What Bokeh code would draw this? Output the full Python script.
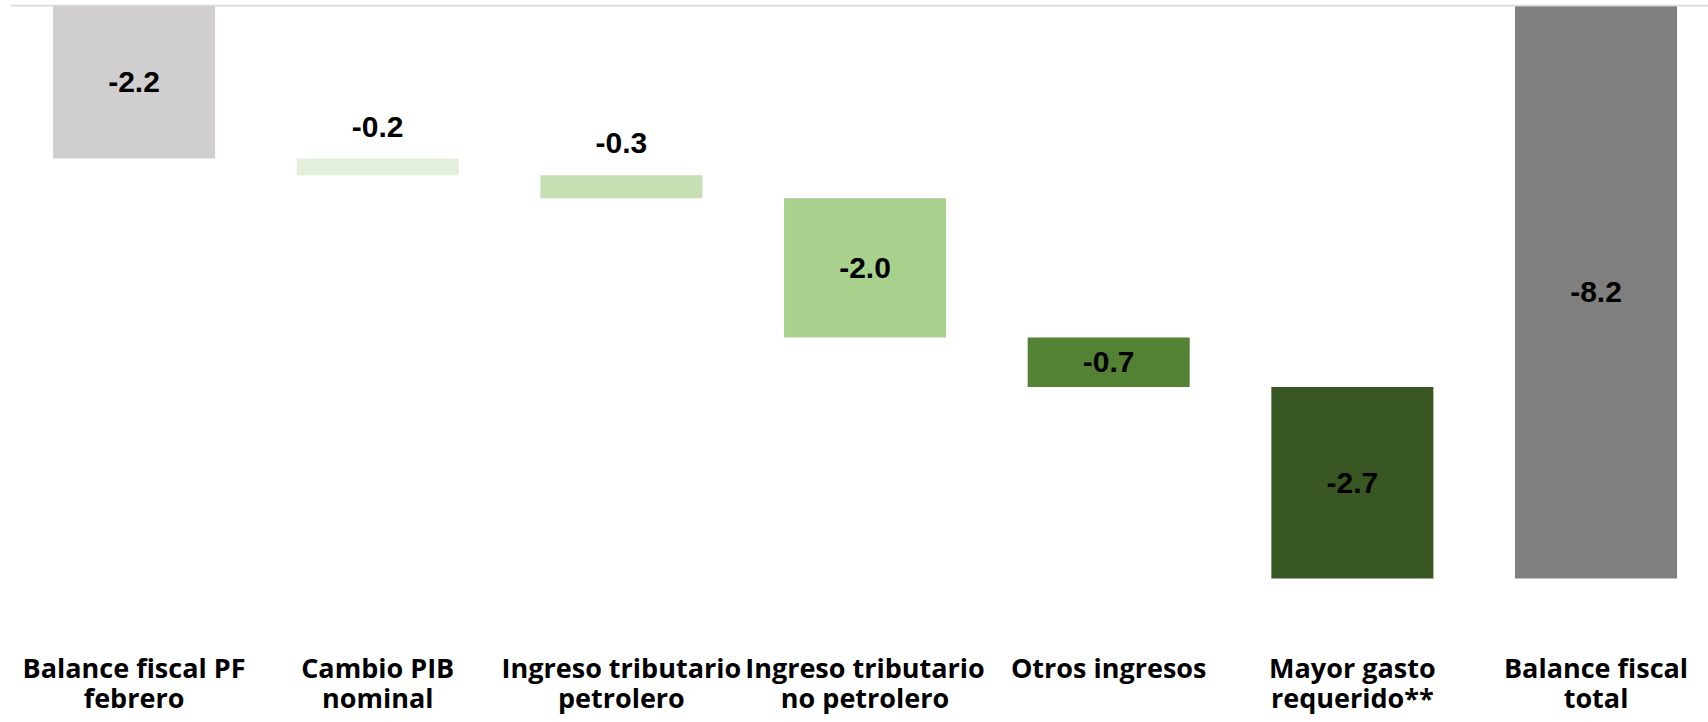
from bokeh.plotting import figure
from bokeh.models import Range1d, FixedTicker, Span, ColumnDataSource, LabelSet, LinearAxis
from bokeh.core.properties import value
from bokeh.embed import file_html
from bokeh.resources import INLINE

categories = [
    "Balance fiscal PF\nfebrero",
    "Cambio PIB\nnominal",
    "Ingreso tributario\npetrolero",
    "Ingreso tributario\nno petrolero",
    "Otros ingresos",
    "Mayor gasto\nrequerido**",
    "Balance fiscal\ntotal",
]
changes = [-2.19, -0.24, -0.33, -1.99, -0.71, -2.74]
total = -8.2
colors = ["#D0CECE", "#E2EFDA", "#C6E0B4", "#A9D18E", "#548235", "#385723", "#7F7F7F"]

# waterfall geometry
tops, bottoms, vals = [], [], []
run = 0.0
for c in changes:
    tops.append(run)
    bottoms.append(run + c)
    vals.append(c)
    run += c
tops.append(0.0)
bottoms.append(total)
vals.append(total)

xs = list(range(len(categories)))
labels = [f"{v:.1f}" for v in vals]
inside = [abs(v) >= 0.5 for v in vals]
label_y = [(t + b) / 2 if ins else t for t, b, ins in zip(tops, bottoms, inside)]
label_off = [0 if ins else 32 for ins in inside]

src = ColumnDataSource(dict(x=xs, top=tops, bottom=bottoms, color=colors,
                            label=labels, ly=label_y, off=label_off))

W, H = 1708, 722
p = figure(width=W, height=H, output_backend="svg", toolbar_location=None,
           x_range=Range1d(-0.507, 6.4616), y_range=Range1d(-8.214, 0.0143),
           min_border_left=10, min_border_right=0, min_border_top=4,
           min_border_bottom=143)

p.vbar(x="x", top="top", bottom="bottom", width=0.665, fill_color="color",
       line_color=None, source=src)

p.add_layout(Span(location=0, dimension="width", line_color="#D9D9D9", line_width=2))

lab = LabelSet(x="x", y="ly", text="label", y_offset="off", source=src,
               text_align="center", text_baseline="middle",
               text_font=value("Liberation Sans"), text_font_style="bold",
               text_font_size=value("30px"), text_color="#000000")
p.add_layout(lab)

p.yaxis.visible = False
p.grid.visible = False
p.outline_line_color = None

line1 = {i: c.split("\n")[0] for i, c in zip(xs, categories)}
line2 = {i: (c.split("\n")[1] if "\n" in c else "") for i, c in zip(xs, categories)}

ax1 = p.xaxis[0]
ax2 = LinearAxis()
p.add_layout(ax2, "below")
for ax, overrides, standoff in ((ax1, line1, 69), (ax2, line2, -10)):
    ax.ticker = FixedTicker(ticks=xs)
    ax.major_label_overrides = overrides
    ax.axis_line_color = None
    ax.major_tick_line_color = None
    ax.minor_tick_line_color = None
    ax.major_tick_out = 0
    ax.major_tick_in = 0
    ax.major_label_standoff = standoff
    ax.major_label_text_font = "Open Sans"
    ax.major_label_text_font_style = "bold"
    ax.major_label_text_font_size = "27px"
    ax.major_label_text_color = "#000000"

open("out.html", "w").write(file_html(p, INLINE))
